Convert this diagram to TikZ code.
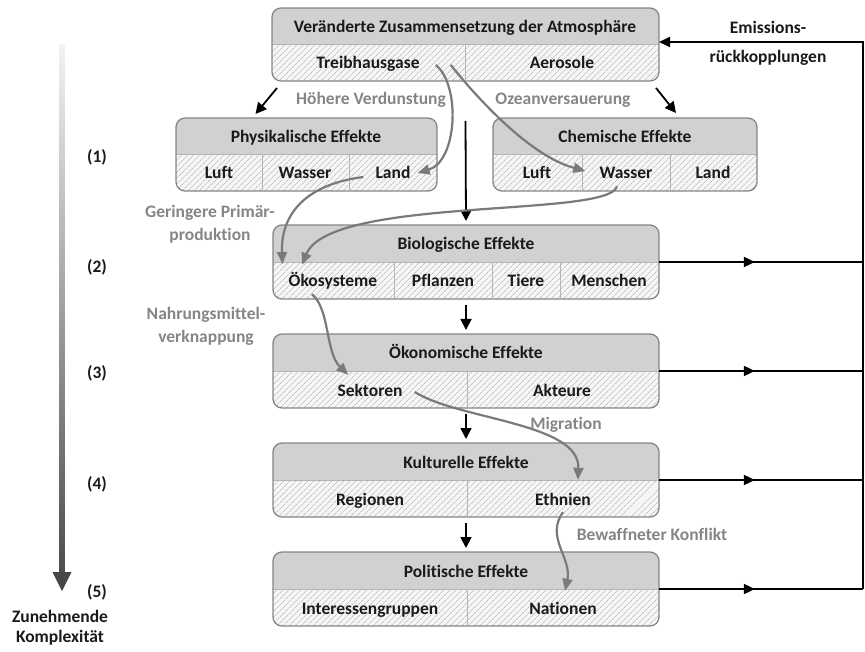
\documentclass[tikz,border=0pt]{standalone}
\usepackage{fontspec}
\setmainfont{Carlito}[Ligatures={NoCommon}]
\usetikzlibrary{arrows.meta,patterns.meta,decorations.markings}

\definecolor{txt}{HTML}{1A1A1A}
\definecolor{lblgray}{HTML}{858585}
\definecolor{flowgray}{HTML}{7A7A7A}
\definecolor{hdrgray}{HTML}{D1D1D1}
\definecolor{cellbg}{HTML}{F6F6F6}
\definecolor{hatchgray}{HTML}{C2C2C2}
\definecolor{boxgray}{HTML}{858585}
\definecolor{sepgray}{HTML}{B4B4B4}

\begin{document}
\begin{tikzpicture}[x=1pt,y=-1pt,
    every node/.style={font=\bfseries\fontsize{17.5}{21}\selectfont, text=txt, inner sep=2pt},
    cell/.style={text height=14pt, text depth=2pt},
    frame/.style={draw=boxgray, line width=1.3pt, rounded corners=9pt},
    sep/.style={draw=sepgray, line width=0.8pt},
    hatch/.style={pattern={Lines[angle=45,distance=4pt,line width=0.7pt]}, pattern color=hatchgray},
    lbl/.style={text=lblgray, align=center},
    down/.style={-{Triangle[length=11pt,width=11pt]}, line width=1.8pt, draw=black},
    flow/.style={-{Triangle[length=12pt,width=10pt]}, line width=2.2pt, draw=flowgray},
    fbline/.style={line width=1.8pt, draw=black},
    midarrow/.style={postaction={decorate}, decoration={markings, mark=at position 0.47 with {\arrow{Triangle[length=11pt,width=10pt]}}}}
]
    \useasboundingbox (0,0) rectangle (865,652);

    % Boxes: header row grey, lower row hatched
    \foreach \nm/\xl/\yt/\xr/\yb in {atm/272/8/659/81, phys/176/118/437/191, chem/493/118/757/191,
        bio/273/225/659/299, oek/273/334/659/408, kult/273/443/659/517, pol/273/552/659/626} {
        \pgfmathsetmacro{\ym}{(\yt+\yb)/2}
        \pgfmathsetmacro{\xm}{(\xl+\xr)/2}
        \begin{scope}
            \clip[rounded corners=9pt] (\xl,\yt) rectangle (\xr,\yb);
            \fill[cellbg] (\xl,\ym) rectangle (\xr,\yb);
            \fill[hatch] (\xl,\ym) rectangle (\xr,\yb);
            \fill[hdrgray] (\xl,\yt) rectangle (\xr,\ym);
        \end{scope}
        \draw[sep] (\xl,\ym) -- (\xr,\ym);
        \draw[frame] (\xl,\yt) rectangle (\xr,\yb);
        \coordinate (\nm-n) at (\xm,\yt);
        \coordinate (\nm-s) at (\xm,\yb);
        \coordinate (\nm-e) at (\xr,\ym);
        \coordinate (\nm-sw) at (\xl,\yb);
        \coordinate (\nm-se) at (\xr,\yb);
    }

    % Cell dividers
    \foreach \x/\yt/\yb in {465/45/81, 262/155/191, 349/155/191, 582/155/191, 670/155/191,
        394/262/299, 492/262/299, 560/262/299, 467/371/408, 467/480/517, 467/589/626}
        \draw[sep] (\x,\yt) -- (\x,\yb);

    % Headers
    \node[cell] (hatm) at (465,27) {Veränderte Zusammensetzung der Atmosphäre};
    \node[cell] (hphys) at (306,137) {Physikalische Effekte};
    \node[cell] (hchem) at (625,137) {Chemische Effekte};
    \node[cell] (hbio) at (466,244) {Biologische Effekte};
    \node[cell] (hoek) at (466,353) {Ökonomische Effekte};
    \node[cell] (hkult) at (466,462) {Kulturelle Effekte};
    \node[cell] (hpol) at (466,571) {Politische Effekte};

    % Cells
    \node[cell] (thg) at (368,63) {Treibhausgase};
    \node[cell] (aer) at (562,63) {Aerosole};
    \node[cell] (phluft) at (219,173) {Luft};
    \node[cell] (phwasser) at (305,173) {Wasser};
    \node[cell] (phland) at (393,173) {Land};
    \node[cell] (chluft) at (537,173) {Luft};
    \node[cell] (chwasser) at (626,173) {Wasser};
    \node[cell] (chland) at (713,173) {Land};
    \node[cell] (oeko) at (333,281) {Ökosysteme};
    \node[cell] (pfl) at (443,281) {Pflanzen};
    \node[cell] (tiere) at (526,281) {Tiere};
    \node[cell] (mensch) at (609,281) {Menschen};
    \node[cell] (sekt) at (370,390) {Sektoren};
    \node[cell] (akt) at (562,390) {Akteure};
    \node[cell] (reg) at (370,499) {Regionen};
    \node[cell] (eth) at (563,499) {Ethnien};
    \node[cell] (igr) at (370,608) {Interessengruppen};
    \node[cell] (nat) at (563,608) {Nationen};

    % Black arrows between levels
    \draw[down] ([shift={(5,7)}]atm-sw) -- ([shift={(-51,-4)}]phys-n);
    \draw[down] ([shift={(-3,7)}]atm-se) -- ([shift={(51,-5)}]chem-n);
    \draw[down] ([shift={(0,40)}]atm-s) -- ([shift={(0,-4)}]bio-n);
    \draw[down] ([shift={(0,6)}]bio-s) -- ([shift={(0,-4)}]oek-n);
    \draw[down] ([shift={(0,6)}]oek-s) -- ([shift={(0,-4)}]kult-n);
    \draw[down] ([shift={(0,6)}]kult-s) -- ([shift={(0,-4)}]pol-n);

    % Grey flows
    \draw[flow] ([shift={(14,2)}]thg.east) .. controls +(25,20) and +(40,-12) .. ([shift={(5,0)}]phland.east);
    \draw[flow] ([shift={(29,2)}]thg.east) .. controls +(28,35) and +(-55,-15) .. ([shift={(-12,-2)}]chwasser.west);
    \draw[flow] ([shift={(-10,4)}]phland.west) .. controls +(-63,8) and +(-2,-45) .. ([shift={(-4,-17)}]oeko.west);
    \draw[flow] ([shift={(-9,3)}]chwasser.south) .. controls +(-7,32) and +(28,-69) .. ([shift={(-31,-6)}]oeko.north);
    \draw[flow] ([shift={(-21,3)}]oeko.south) .. controls +(18,15) and +(-23,-22) .. ([shift={(13,-5)}]sekt.north west);
    \draw[flow] ([shift={(10,2)}]sekt.east) .. controls +(45,28) and +(2,-57) .. ([shift={(15,-9)}]eth.north);
    \draw[flow] ([shift={(0,3)}]eth.south) .. controls +(-18,25) and +(7,-33) .. ([shift={(2,-7)}]nat.north);

    % Flow labels
    \node[lbl] (verd) at (371,100) {Höhere Verdunstung};
    \node[lbl] (ozean) at (563,100) {Ozeanversauerung};
    \node[lbl, font=\bfseries\fontsize{17.5}{23}\selectfont] (primaer) at (210,224) {Geringere Primär-\\produktion};
    \node[lbl, font=\bfseries\fontsize{17.5}{23}\selectfont] (nahrung) at (206,326) {Nahrungsmittel-\\verknappung};
    \node[lbl] (migr) at (566,425) {Migration};
    \node[lbl] (konfl) at (652,534) {Bewaffneter Konflikt};

    % Feedback
    \coordinate (fbtop) at (863,42);
    \foreach \nm in {bio,oek,kult,pol}
        \draw[fbline, midarrow] (\nm-e) -- (\nm-e -| fbtop);
    \draw[fbline, -{Triangle[length=11pt,width=10pt]}] (pol-e -| fbtop) -- (fbtop) -- (atm-e |- fbtop);
    \node[align=center, font=\bfseries\fontsize{17.5}{29}\selectfont] (emis) at (768,43) {Emissions-\\rückkopplungen};

    % Complexity axis
    \coordinate (axtop) at (62,45);
    \coordinate (axtip) at (62,591);
    \shade[top color=gray!10, bottom color=black!70] ([xshift=-2.5pt]axtop) rectangle ([shift={(2.5,-18)}]axtip);
    \fill[black!72] ([shift={(-9.5,-19)}]axtip) -- ([shift={(9.5,-19)}]axtip) -- (axtip) -- cycle;
    \foreach \i/\y in {1/157,2/267,3/373,4/484,5/592}
        \node (lv\i) at (97,\y) {(\i)};
    \node[align=center, font=\bfseries\fontsize{17.5}{20}\selectfont] (kompl) at (60,628) {Zunehmende\\Komplexität};

\end{tikzpicture}
\end{document}
